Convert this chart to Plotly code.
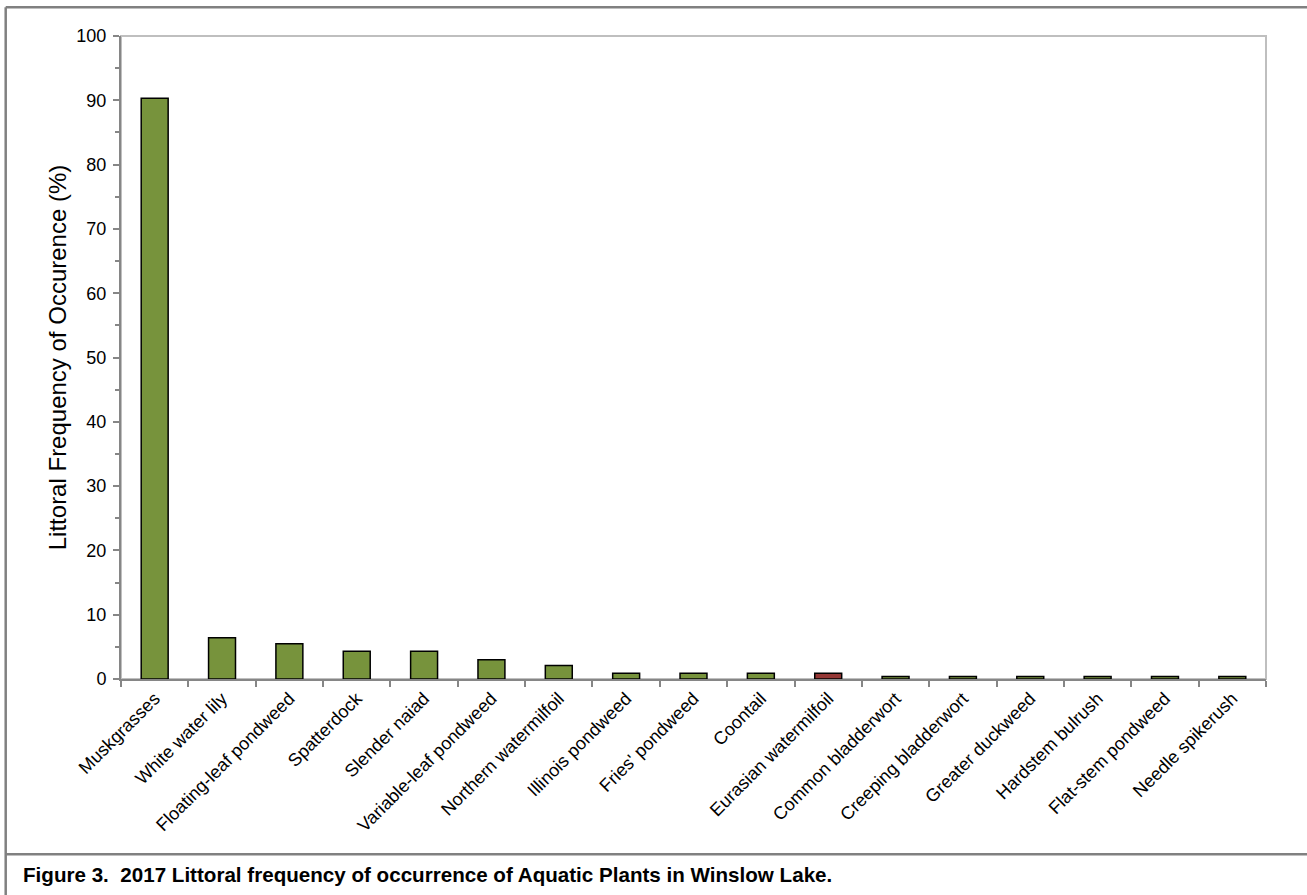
import plotly.graph_objects as go

species = ["Muskgrasses", "White water lily", "Floating-leaf pondweed", "Spatterdock",
           "Slender naiad", "Variable-leaf pondweed", "Northern watermilfoil",
           "Illinois pondweed", "Fries' pondweed", "Coontail", "Eurasian watermilfoil",
           "Common bladderwort", "Creeping bladderwort", "Greater duckweed",
           "Hardstem bulrush", "Flat-stem pondweed", "Needle spikerush"]
frequency = [90.3, 6.4, 5.5, 4.3, 4.3, 3.0, 2.1, 0.9, 0.9, 0.9, 0.9,
             0.4, 0.4, 0.4, 0.4, 0.4, 0.4]
invasive = ["Eurasian watermilfoil"]

native_color = "#77933C"
invasive_color = "#953735"
colors = [invasive_color if s in invasive else native_color for s in species]

W, H = 1307, 895
L, R, T, B = 121, 1266, 36, 679.5
pw, ph = R - L, B - T

def px(x):
    return (x - L) / pw

def py(y):
    return (B - y) / ph

fig = go.Figure(go.Bar(
    x=species, y=frequency,
    marker=dict(color=colors, line=dict(color="#000000", width=1.5)),
    width=0.4,
))

gray = "#868686"
fig.update_layout(
    width=W, height=H,
    margin=dict(l=L, r=W - R, t=T, b=H - B),
    paper_bgcolor="white", plot_bgcolor="white",
    font=dict(family="Liberation Sans, Arial, sans-serif", size=18, color="#000000"),
    showlegend=False,
    xaxis=dict(
        tickangle=-45, showgrid=False, showline=True, linecolor=gray, linewidth=2,
        ticks="outside", ticklen=6, tickcolor=gray, tickwidth=1.5,
        tickson="boundaries", range=[-0.5, len(species) - 0.5],
        tickfont=dict(size=18),
    ),
    yaxis=dict(
        range=[0, 100], dtick=10, showgrid=False, zeroline=False,
        showline=True, linecolor=gray, linewidth=2,
        ticks="outside", ticklen=6, tickcolor=gray, tickwidth=1.5,
        minor=dict(dtick=5, ticks="outside", ticklen=4, tickcolor=gray, tickwidth=1.5),
        ticklabelstandoff=3,
        tickfont=dict(size=18),
        title=dict(text="Littoral Frequency of Occurence (%)", font=dict(size=24), standoff=3),
    ),
    shapes=[
        dict(type="rect", xref="paper", yref="paper", x0=0, y0=0, x1=1, y1=1,
             line=dict(color="#BFBFBF", width=2), layer="below"),
        dict(type="line", xref="paper", yref="paper", x0=px(5.7), x1=px(W + 5), y0=py(7.3), y1=py(7.3),
             line=dict(color="#808080", width=2.5)),
        dict(type="line", xref="paper", yref="paper", x0=px(5.7), x1=px(5.7), y0=py(7.3), y1=py(H + 5),
             line=dict(color="#808080", width=2.5)),
        dict(type="line", xref="paper", yref="paper", x0=px(5.7), x1=px(W + 5), y0=py(855), y1=py(855),
             line=dict(color="#808080", width=2.5)),
    ],
    annotations=[
        dict(text="<b>Figure 3.\u00a0\u00a02017 Littoral frequency of occurrence of Aquatic Plants in Winslow Lake.</b>",
             xref="paper", yref="paper", x=px(21), y=py(875.5), xanchor="left", yanchor="middle",
             showarrow=False, font=dict(size=20.6, color="#000000")),
    ],
)

fig.write_html("out.html", config={"displayModeBar": False},
               post_script="document.body.style.margin='0';document.body.style.overflow='hidden';")
